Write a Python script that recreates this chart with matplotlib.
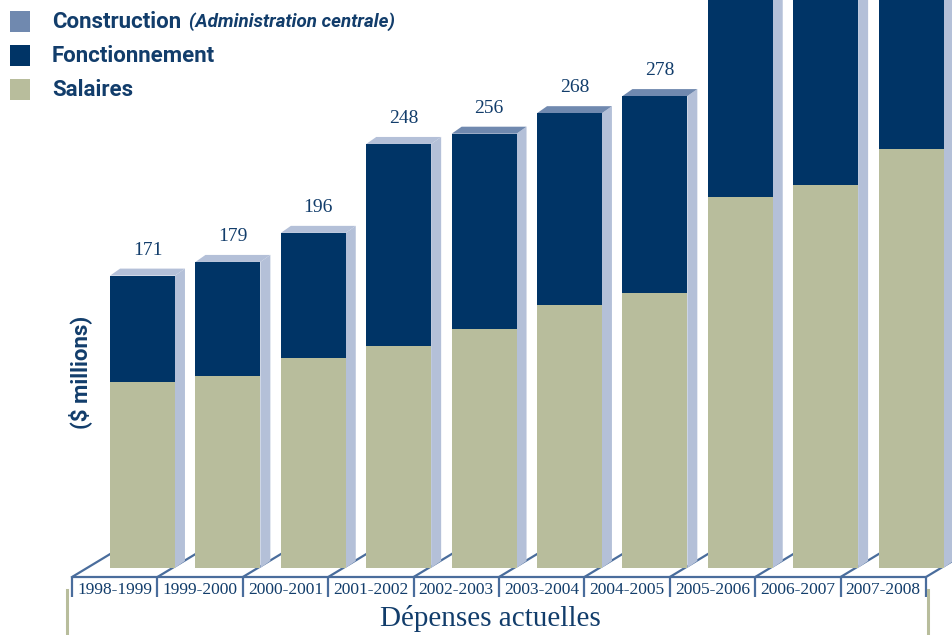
#!/usr/bin/env python3
"""Dépenses actuelles 1998-2008: stacked pseudo-3D bars (Salaires / Fonctionnement / Construction)."""

import matplotlib
matplotlib.use("Agg")
import matplotlib.pyplot as plt
from matplotlib.patches import Polygon, Rectangle

# ---------------------------------------------------------------------------
# Data ($ millions)
# ---------------------------------------------------------------------------
YEARS = ["1998-1999", "1999-2000", "2000-2001", "2001-2002", "2002-2003",
         "2003-2004", "2004-2005", "2005-2006", "2006-2007", "2007-2008"]
SALAIRES = [109, 112, 123, 130, 140, 154, 161, 217, 224, 245]
FONCTIONNEMENT = [62, 67, 73, 118, 114, 112, 115, 140, 145, 130]
CONSTRUCTION = [0, 0, 0, 0, 2, 2, 2, 3, 3, 3]
LEGEND_LABELS = ["Construction", "Fonctionnement", "Salaires"]

# ---------------------------------------------------------------------------
# Style
# ---------------------------------------------------------------------------
C_CONSTR = "#7089af"
C_FONCT = "#003466"
C_SAL = "#b8bd9c"
C_SIDE = "#b4c0d8"
C_TEXT = "#123d6b"
C_FLOOR = "#4a6d9c"

BAR_W = 0.76
DX, DY = 0.117, 4.1          # depth offset (data units)
SEP_OFF = 0.826              # floor separator to the left of each bar centre
DIAG_DX, DIAG_DY = 0.445, 13.4
FLOOR_Y = -5.3

SANS = ["Roboto", "DejaVu Sans"]
SERIF = ["Liberation Serif", "DejaVu Serif"]

fig = plt.figure(figsize=(9.53, 6.35), dpi=100)
ax = fig.add_axes([0, 0, 1, 1])
ax.set_xlim(-1.669, 9.491)
ax.set_ylim(-39.2, 332.2)
ax.axis("off")

n = len(YEARS)
xs = list(range(n))

# floor
seps = [x - SEP_OFF for x in xs] + [xs[-1] + 1 - SEP_OFF]
ax.plot([seps[0], seps[-1]], [FLOOR_Y, FLOOR_Y], color=C_FLOOR, lw=1.6, zorder=1,
        solid_capstyle="butt")
for s in seps:
    ax.plot([s, s + DIAG_DX], [FLOOR_Y, FLOOR_Y + DIAG_DY], color=C_FLOOR, lw=1.6, zorder=1)
    ax.plot([s, s], [FLOOR_Y, -17.0], color=C_FLOOR, lw=1.6, zorder=1, solid_capstyle="butt")

# bars
for x, sal, fon, con, yr in zip(xs, SALAIRES, FONCTIONNEMENT, CONSTRUCTION, YEARS):
    xl, xr = x - BAR_W / 2, x + BAR_W / 2
    front_top = sal + fon
    total = sal + fon + con
    # side face
    ax.add_patch(Polygon([(xr, 0), (xr + DX, DY), (xr + DX, front_top + DY), (xr, front_top)],
                         closed=True, facecolor=C_SIDE, edgecolor="none", zorder=2))
    # top face
    top_col = C_CONSTR if con > 0 else C_SIDE
    ax.add_patch(Polygon([(xl, front_top), (xl + DX, front_top + DY),
                          (xr + DX, front_top + DY), (xr, front_top)],
                         closed=True, facecolor=top_col, edgecolor="none", zorder=2))
    # front faces
    ax.bar(x, sal, width=BAR_W, color=C_SAL, zorder=3)
    ax.bar(x, fon, bottom=sal, width=BAR_W, color=C_FONCT, zorder=3)
    # value label
    ax.annotate(f"{total}", xy=(x + DX / 2, front_top + DY), xytext=(0, 7),
                textcoords="offset points", ha="center", va="bottom",
                fontsize=14, color=C_TEXT, family=SERIF)
    # category label
    ax.text(x - SEP_OFF + 0.5, -12.8, yr, ha="center", va="center",
            fontsize=12.5, color=C_TEXT, family=SERIF)

ax.text(4.07, -29.3, "Dépenses actuelles", ha="center", va="center",
        fontsize=21, color=C_TEXT, family=SERIF)

# side rules at the bottom
for px in (67, 928):
    fig.add_artist(plt.Line2D([px / 953, px / 953], [0, 45 / 635], color=C_SAL, lw=2.2))

# y label
fig.text(80 / 953, 1 - 372 / 635, "($ millions)", rotation=90, ha="center", va="center",
         fontsize=16, fontweight="bold", color=C_TEXT, family=SANS)

# legend (drawn by hand: first entry mixes bold and bold-italic)
leg_cols = [C_CONSTR, C_FONCT, C_SAL]
for i, (lab, col) in enumerate(zip(LEGEND_LABELS, leg_cols)):
    top_px = 11 + i * 34
    fig.add_artist(Rectangle((10 / 953, 1 - (top_px + 21) / 635), 20 / 953, 21 / 635,
                             transform=fig.transFigure, facecolor=col, edgecolor="none"))
    fig.text(52 / 953, 1 - (top_px + 10.5) / 635, lab, ha="left", va="center",
             fontsize=16, fontweight="bold", color=C_TEXT, family=SANS)
    if i == 0:
        fig.text(189 / 953, 1 - (top_px + 11) / 635, "(Administration centrale)",
                 ha="left", va="center", fontsize=13.5, fontweight="bold", style="italic",
                 color=C_TEXT, family=SANS)

fig.savefig("out.png", dpi=100)
